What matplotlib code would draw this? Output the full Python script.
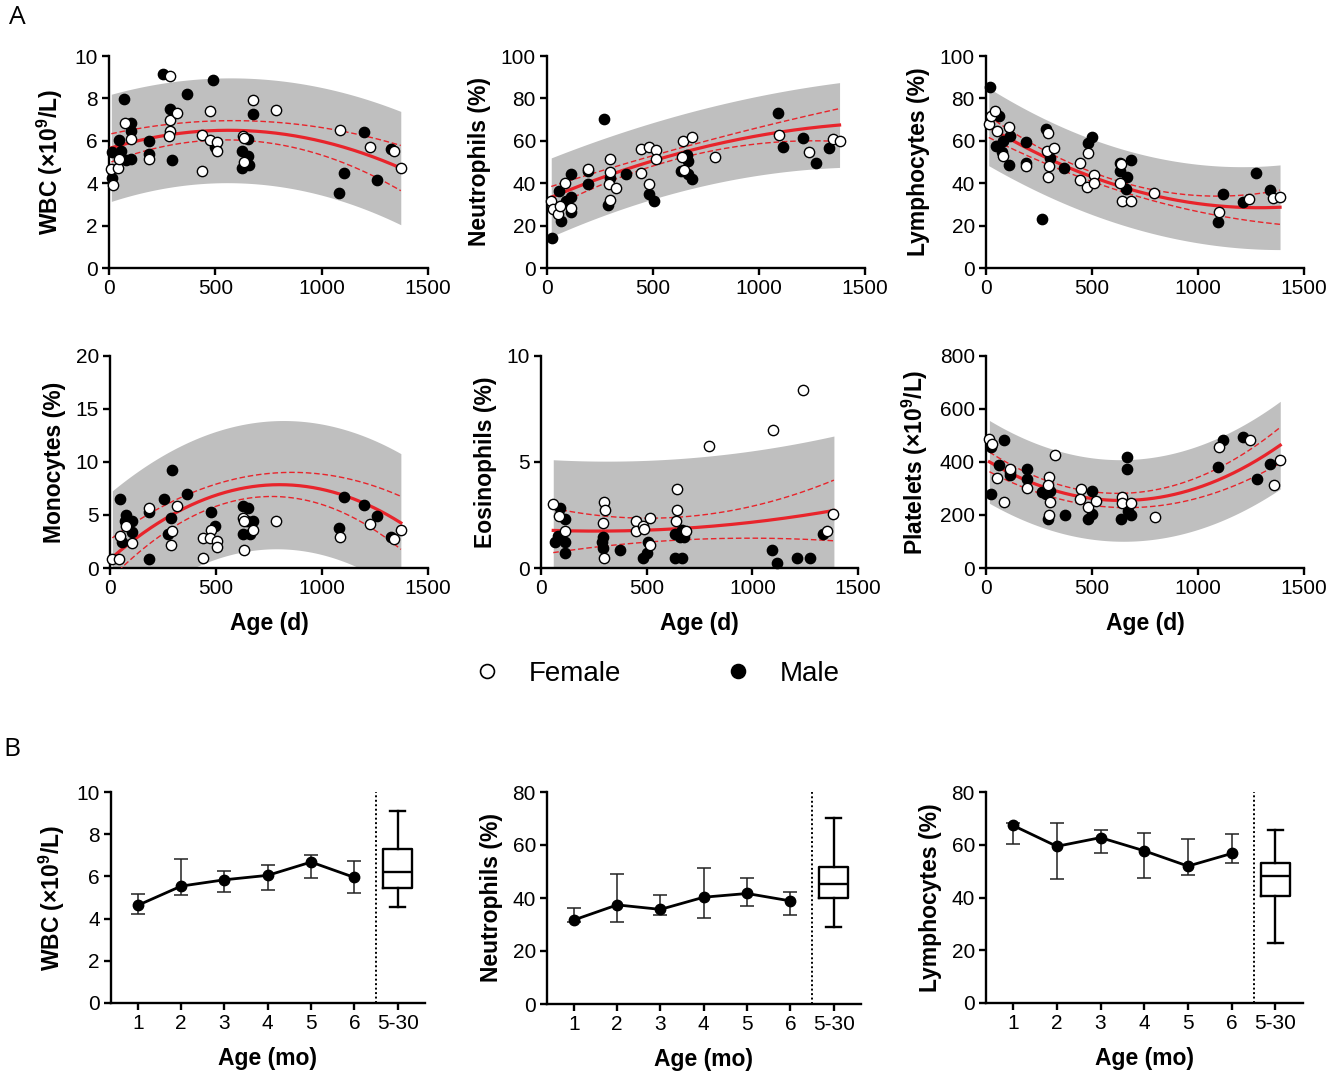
import numpy as np
import matplotlib
matplotlib.use('Agg')
import matplotlib.pyplot as plt
from matplotlib.lines import Line2D

plt.rcParams['font.family'] = ['Liberation Sans', 'DejaVu Sans']
plt.rcParams['mathtext.fontset'] = 'custom'
plt.rcParams['mathtext.rm'] = 'Liberation Sans'
plt.rcParams['mathtext.bf'] = 'Liberation Sans:bold'
plt.rcParams['mathtext.it'] = 'Liberation Sans:italic'

# ---------------- Panel A data (age in days) ----------------
wbc_f_age = [11, 20, 42, 47, 77, 105, 186, 289, 289, 319, 289, 283, 437, 437, 473, 475, 506, 506, 629, 634, 634, 676, 783, 1088, 1228, 1341, 1372]
wbc_f = [4.67, 3.92, 4.73, 5.16, 6.84, 6.09, 5.16, 9.05, 6.98, 7.31, 6.48, 6.22, 6.27, 4.58, 7.42, 6.02, 5.92, 5.5, 6.22, 6.13, 5.02, 7.94, 7.44, 6.52, 5.72, 5.53, 4.72]
wbc_m_age = [16, 16, 46, 57, 71, 79, 105, 105, 105, 186, 186, 256, 285, 294, 365, 490, 498, 655, 627, 652, 624, 659, 676, 1080, 1105, 1199, 1258, 1324]
wbc_m = [5.47, 4.25, 6.06, 5.52, 7.97, 5.11, 6.83, 6.44, 5.16, 6.0, 5.36, 9.13, 7.5, 5.08, 8.2, 8.86, 5.7, 6.08, 5.5, 5.27, 4.73, 4.86, 7.27, 3.56, 4.48, 6.4, 4.13, 5.6]

neu_f_age = [20, 28, 52, 60, 86, 112, 195, 296, 299, 291, 324, 299, 445, 445, 481, 481, 514, 514, 640, 635, 644, 685, 791, 1093, 1236, 1349, 1380]
neu_f = [31.7, 27.7, 25.3, 29.2, 40.3, 28.3, 46.7, 51.4, 45.3, 39.4, 37.8, 32.0, 44.8, 56.1, 57.0, 39.5, 55.5, 51.6, 59.8, 52.3, 46.4, 61.7, 52.5, 62.8, 54.7, 60.9, 60.0]
neu_m_age = [25, 55, 68, 91, 115, 115, 115, 195, 195, 269, 288, 296, 371, 481, 505, 630, 662, 667, 664, 685, 1088, 1113, 1207, 1267, 1331]
neu_m = [14.1, 36.4, 22.2, 31.6, 44.5, 26.6, 33.3, 45.8, 39.8, 70.3, 29.5, 42.5, 44.5, 34.8, 31.7, 45.8, 53.4, 50.3, 44.2, 41.9, 73.3, 57.0, 61.3, 49.7, 56.7]

lym_f_age = [13, 22, 44, 52, 81, 108, 189, 292, 287, 295, 294, 322, 444, 444, 479, 478, 509, 511, 632, 638, 640, 684, 794, 1098, 1241, 1355, 1387]
lym_f = [67.7, 71.6, 74.2, 64.8, 52.7, 66.4, 48.0, 63.9, 55.2, 48.1, 43.0, 56.4, 49.7, 41.4, 54.2, 38.1, 43.8, 40.3, 40.3, 49.2, 31.6, 31.6, 35.5, 26.4, 32.7, 33.0, 33.6]
lym_m_age = [19, 59, 49, 81, 76, 111, 108, 189, 189, 263, 281, 302, 370, 481, 502, 632, 632, 663, 684, 659, 1117, 1094, 1210, 1274, 1340]
lym_m = [85.5, 71.7, 57.5, 59.8, 54.8, 62.3, 48.4, 59.4, 49.5, 23.3, 65.8, 52.0, 47.2, 59.1, 62.0, 45.8, 49.7, 42.7, 51.1, 37.5, 34.7, 21.9, 31.3, 44.7, 36.7]

mon_f_age = [11, 42, 47, 77, 105, 186, 291, 289, 318, 437, 439, 475, 472, 506, 506, 627, 634, 634, 676, 783, 1085, 1228, 1341, 1372]
mon_f = [0.85, 0.85, 3.02, 3.93, 2.39, 5.66, 3.46, 2.2, 5.85, 2.83, 0.97, 3.58, 2.83, 2.58, 1.95, 4.72, 4.43, 1.7, 3.58, 4.43, 2.96, 4.18, 2.7, 3.62]
mon_m_age = [46, 77, 71, 105, 105, 55, 186, 186, 256, 275, 286, 294, 365, 475, 495, 627, 652, 627, 659, 676, 645, 1080, 1105, 1199, 1261, 1325]
mon_m = [6.48, 5.03, 4.4, 4.4, 3.4, 2.45, 0.85, 5.28, 6.54, 3.24, 4.72, 9.28, 6.95, 5.28, 3.93, 5.82, 5.69, 3.18, 3.18, 4.43, 4.43, 3.81, 6.67, 5.97, 4.94, 2.96]

eos_f_age = [58, 87, 115, 300, 304, 293, 300, 448, 448, 484, 487, 517, 517, 643, 643, 638, 686, 795, 1099, 1241, 1355, 1383]
eos_f = [3.0, 2.46, 1.75, 3.11, 2.73, 2.11, 0.49, 2.22, 1.73, 1.96, 1.85, 2.37, 1.09, 3.74, 2.73, 2.22, 1.73, 5.74, 6.5, 8.39, 1.75, 2.54]
eos_m_age = [66, 82, 90, 114, 114, 115, 295, 295, 289, 374, 483, 500, 508, 634, 666, 634, 659, 666, 677, 1091, 1118, 1210, 1273, 1333]
eos_m = [1.21, 1.5, 2.84, 2.32, 1.21, 0.71, 1.45, 0.96, 1.21, 0.85, 0.49, 0.71, 1.25, 0.49, 0.49, 1.61, 1.45, 1.81, 1.45, 0.85, 0.22, 0.49, 0.49, 1.61]

plt_f_age = [16, 27, 51, 86, 111, 192, 296, 293, 301, 296, 325, 449, 442, 482, 517, 642, 642, 686, 796, 1098, 1243, 1357, 1388]
plt_f = [485, 468, 340, 250, 375, 303, 343, 314, 249, 201, 428, 300, 259, 229, 253, 268, 245, 247, 192, 458, 483, 312, 408]
plt_m_age = [22, 22, 62, 84, 111, 111, 192, 192, 265, 284, 304, 293, 371, 482, 502, 499, 663, 663, 637, 669, 686, 1094, 1119, 1211, 1276, 1341]
plt_m = [455, 278, 390, 482, 362, 350, 375, 337, 287, 280, 290, 186, 200, 186, 202, 290, 418, 374, 186, 216, 199, 381, 483, 494, 335, 392]

# Fitted second-order curves: mean, 95% CI half-width, 95% prediction half-width
wbc_fit_age = [11, 350, 700, 1050, 1372]
wbc_fit = [5.70, 6.33, 6.39, 5.97, 4.66]
wbc_ci = [0.66, 0.48, 0.50, 0.66, 1.08]
wbc_pi = [2.52, 2.49, 2.48, 2.54, 2.68]

neu_fit_age = [20, 350, 700, 1050, 1380]
neu_fit = [33.4, 45.8, 55.8, 63.7, 67.3]
neu_ci = [5.0, 3.0, 2.6, 3.9, 7.9]
neu_pi = [18.5, 18.2, 18.2, 18.6, 20.1]

lym_fit_age = [13, 350, 700, 1050, 1387]
lym_fit = [66.4, 49.5, 36.2, 29.8, 28.7]
lym_ci = [4.9, 2.8, 2.4, 3.9, 8.2]
lym_pi = [18.2, 18.0, 18.0, 18.4, 20.1]

mon_fit_age = [11, 350, 700, 1050, 1372]
mon_fit = [1.0, 5.63, 7.75, 7.17, 4.26]
mon_ci = [1.8, 1.2, 1.2, 1.3, 2.6]
mon_pi = [6.26, 6.08, 6.07, 6.10, 6.57]

eos_fit_age = [58, 350, 700, 1050, 1386]
eos_fit = [1.75, 1.78, 1.91, 2.16, 2.74]
eos_ci = [1.07, 0.60, 0.60, 0.80, 1.43]
eos_pi = [3.33, 3.30, 3.32, 3.36, 3.52]

plt_fit_age = [16, 350, 700, 1050, 1388]
plt_fit = [394, 297, 262, 299, 472]
plt_ci = [36, 28, 30, 38, 69]
plt_pi = [156, 154, 155, 157, 166]

# ---------------- Panel B data ----------------
month_labels = ['1', '2', '3', '4', '5', '6', '5-30']
b_wbc_mean = [4.63, 5.54, 5.84, 6.05, 6.68, 5.95]
b_wbc_hi = [5.18, 6.82, 6.24, 6.55, 7.02, 6.74]
b_wbc_lo = [4.20, 5.12, 5.26, 5.34, 5.94, 5.23]
b_wbc_box = [4.54, 5.45, 6.20, 7.29, 9.12]   # whislo, q1, med, q3, whishi

b_neu_mean = [31.7, 37.4, 35.7, 40.3, 41.7, 38.9]
b_neu_hi = [36.3, 49.1, 41.0, 51.4, 47.6, 42.3]
b_neu_lo = [30.9, 30.8, 33.4, 32.3, 36.8, 33.5]
b_neu_box = [29.1, 40.1, 45.2, 51.8, 70.2]

b_lym_mean = [67.3, 59.4, 62.7, 57.7, 51.9, 56.7]
b_lym_hi = [68.1, 68.3, 65.6, 64.5, 62.2, 64.1]
b_lym_lo = [60.3, 46.9, 56.7, 47.4, 48.7, 53.0]
b_lym_box = [22.8, 40.4, 48.0, 53.1, 65.7]

# ---------------- Figure ----------------
W, H = 1337, 1073
fig = plt.figure(figsize=(W / 100, H / 100), dpi=100)

def add_ax(l, t, r, b):
    return fig.add_axes([l / W, 1 - b / H, (r - l) / W, (b - t) / H])

RED = '#e8242b'
GRAY = '#bfbfbf'
TICK_FS = 15
LAB_FS = 16.5
YPAD = 7
XPAD = 10

def style(ax):
    for s in ['top', 'right']:
        ax.spines[s].set_visible(False)
    for s in ['left', 'bottom']:
        ax.spines[s].set_linewidth(1.7)
    ax.tick_params(width=1.7, length=5, labelsize=TICK_FS, pad=3)

def smooth(ages, vals, grid):
    return np.polyval(np.polyfit(ages, vals, 2), grid)

def panel_a(box, f_age, f_val, m_age, m_val, fit_age, fit, ci, pi, ylim, yticks, ylabel, xlabel):
    ax = add_ax(*box)
    style(ax)
    grid = np.linspace(fit_age[0], fit_age[-1], 300)
    mean = smooth(fit_age, fit, grid)
    cih = smooth(fit_age, ci, grid)
    pih = smooth(fit_age, pi, grid)
    ax.fill_between(grid, mean - pih, mean + pih, color=GRAY, lw=0, zorder=1)
    ax.plot(grid, mean, color=RED, lw=2.3, zorder=3)
    ax.plot(grid, mean + cih, color=RED, lw=1.0, ls=(0, (4, 2)), zorder=3)
    ax.plot(grid, mean - cih, color=RED, lw=1.0, ls=(0, (4, 2)), zorder=3)
    ax.scatter(m_age, m_val, s=55, facecolor='black', edgecolor='black', lw=1.0, zorder=4, clip_on=False)
    ax.scatter(f_age, f_val, s=55, facecolor='white', edgecolor='black', lw=1.0, zorder=5, clip_on=False)
    ax.set_xlim(0, 1500)
    ax.set_xticks([0, 500, 1000, 1500])
    ax.set_ylim(*ylim)
    ax.set_yticks(yticks)
    ax.set_ylabel(ylabel, fontsize=LAB_FS, fontweight='bold', labelpad=YPAD)
    if xlabel:
        ax.set_xlabel(xlabel, fontsize=LAB_FS, fontweight='bold', labelpad=XPAD)
    return ax

wbc_lab = r'WBC (×10$^\mathbf{9}$/L)'
plt_lab = r'Platelets (×10$^\mathbf{9}$/L)'

panel_a((109, 56, 428, 268), wbc_f_age, wbc_f, wbc_m_age, wbc_m, wbc_fit_age, wbc_fit, wbc_ci, wbc_pi,
        (0, 10), [0, 2, 4, 6, 8, 10], wbc_lab, None)
panel_a((547, 56, 865, 268), neu_f_age, neu_f, neu_m_age, neu_m, neu_fit_age, neu_fit, neu_ci, neu_pi,
        (0, 100), [0, 20, 40, 60, 80, 100], 'Neutrophils (%)', None)
panel_a((986, 56, 1304, 268), lym_f_age, lym_f, lym_m_age, lym_m, lym_fit_age, lym_fit, lym_ci, lym_pi,
        (0, 100), [0, 20, 40, 60, 80, 100], 'Lymphocytes (%)', None)
panel_a((110, 356, 428, 568), mon_f_age, mon_f, mon_m_age, mon_m, mon_fit_age, mon_fit, mon_ci, mon_pi,
        (0, 20), [0, 5, 10, 15, 20], 'Monocytes (%)', 'Age (d)')
panel_a((541, 356, 858, 568), eos_f_age, eos_f, eos_m_age, eos_m, eos_fit_age, eos_fit, eos_ci, eos_pi,
        (0, 10), [0, 5, 10], 'Eosinophils (%)', 'Age (d)')
panel_a((986, 356, 1304, 568), plt_f_age, plt_f, plt_m_age, plt_m, plt_fit_age, plt_fit, plt_ci, plt_pi,
        (0, 800), [0, 200, 400, 600, 800], plt_lab, 'Age (d)')

# legend
handles = [Line2D([], [], ls='none', marker='o', ms=10, mfc='white', mec='black', mew=1.2),
           Line2D([], [], ls='none', marker='o', ms=10, mfc='black', mec='black', mew=1.2)]
fig.legend(handles, ['Female', 'Male'], loc='center', bbox_to_anchor=(656.5 / W, 1 - 674 / H),
           ncol=2, frameon=False, fontsize=20, handlelength=1.0, handletextpad=1.0,
           columnspacing=3.7, borderpad=0)

def panel_b(box, mean, hi, lo, bstats, ylim, yticks, ylabel):
    ax = add_ax(*box)
    style(ax)
    x = np.arange(1, len(mean) + 1)
    mean = np.asarray(mean); hi = np.asarray(hi); lo = np.asarray(lo)
    ax.errorbar(x, mean, yerr=[mean - lo, hi - mean], fmt='none', ecolor='#222222',
                elinewidth=1.1, capsize=5, capthick=1.1, zorder=2)
    ax.plot(x, mean, '-o', color='black', lw=2.0, ms=7.5, zorder=3)
    st = dict(whislo=bstats[0], q1=bstats[1], med=bstats[2], q3=bstats[3], whishi=bstats[4], fliers=[])
    ax.bxp([st], positions=[len(mean) + 1], widths=0.68, showfliers=False,
           boxprops=dict(lw=1.7, color='black'), whiskerprops=dict(lw=1.7, color='black'),
           capprops=dict(lw=1.7, color='black'), medianprops=dict(lw=1.7, color='black'),
           manage_ticks=False)
    ax.axvline(len(mean) + 0.5, color='black', lw=1.4, ls=(0, (1, 1.3)))
    ax.set_xlim(0.38, 7.63)
    ax.set_xticks(np.arange(1, len(month_labels) + 1))
    ax.set_xticklabels(month_labels)
    ax.set_ylim(*ylim)
    ax.set_yticks(yticks)
    ax.set_ylabel(ylabel, fontsize=LAB_FS, fontweight='bold', labelpad=YPAD)
    ax.set_xlabel('Age (mo)', fontsize=LAB_FS, fontweight='bold', labelpad=XPAD)
    return ax

panel_b((111, 792, 425, 1003), b_wbc_mean, b_wbc_hi, b_wbc_lo, b_wbc_box, (0, 10), [0, 2, 4, 6, 8, 10], wbc_lab)
panel_b((547, 792, 861, 1004), b_neu_mean, b_neu_hi, b_neu_lo, b_neu_box, (0, 80), [0, 20, 40, 60, 80], 'Neutrophils (%)')
panel_b((986, 792, 1303, 1003), b_lym_mean, b_lym_hi, b_lym_lo, b_lym_box, (0, 80), [0, 20, 40, 60, 80], 'Lymphocytes (%)')

fig.text(17 / W, 1 - 18 / H, 'A', fontsize=19, family='Open Sans', ha='center', va='center')
fig.text(12 / W, 1 - 749 / H, 'B', fontsize=19, family='Open Sans', ha='center', va='center')

fig.savefig('out.png', dpi=100)
